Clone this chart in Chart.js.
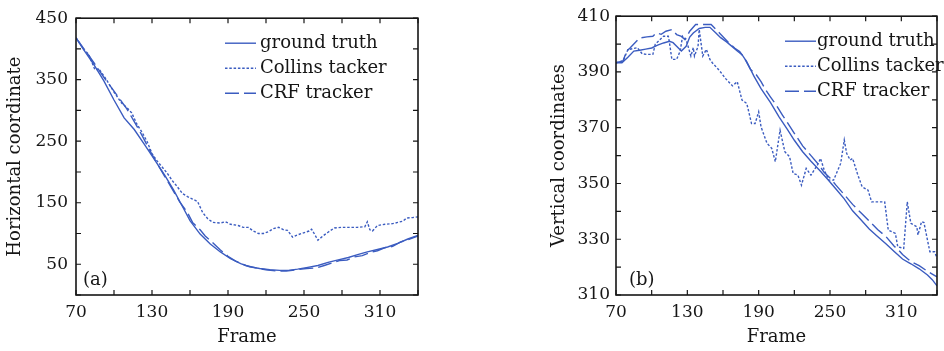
<!DOCTYPE html>
<html>
<head>
<meta charset="utf-8">
<script src="https://cdn.jsdelivr.net/npm/chart.js@4/dist/chart.umd.min.js"></script>
<style>
  body { margin: 0; background: #fff; width: 944px; height: 351px; position: relative; overflow: hidden; }
  .panel { position: absolute; top: 0; width: 472px; height: 351px; }
</style>
</head>
<body>
<div class="panel" style="left:0"><canvas id="chartA" width="472" height="351"></canvas></div>
<div class="panel" style="left:472px"><canvas id="chartB" width="472" height="351"></canvas></div>
<script>
var seriesNames = ['ground truth', 'Collins tacker', 'CRF tracker'];
var frameLabels = [70, 130, 190, 250, 310];
var aTickLabels = [50, 150, 250, 350, 450];
var bTickLabels = [310, 330, 350, 370, 390, 410];

// (a) horizontal coordinate
var aTruthFrames = [70,76,84,92,100,108,116,124,132,140,147,153,160,168,176,184,192,200,207,215,223,231,238,245,253,261,269,277,285,293,300,308,316,324,332,340];
var aTruthValues = [418,399,375,348,317,288,269,245,220,195,171,148,121,99,83,70,59,51,46,43,41,40,40,42,45,48,53,57,61,66,70,74,78,84,91,97];
var aCollinsFrames = [70,76,80,85,88,94,100,106,110,114,118,122,126,130,134,138,142,146,150,154,158,162,166,170,174,178,184,188,192,198,202,206,210,214,218,222,226,230,234,237,241,244,248,251,254,256,258,261,265,269,274,280,286,292,298,300,302,304,308,314,320,324,328,331,336,340];
var aCollinsValues = [418,400,391,366,368,350,330,312,305,296,278,265,250,230,218,208,198,186,176,165,160,156,152,134,124,118,117,119,115,113,110,110,104,100,100,103,108,110,106,105,94,97,100,102,104,107,100,89,96,102,109,110,110,110,111,119,106,104,113,115,116,118,120,125,126,127];
var aCrfFrames = [70,76,84,92,98,104,110,116,122,128,134,140,146,152,158,162,165,168,172,178,184,190,196,204,212,220,228,236,244,252,260,266,272,278,284,290,296,302,308,314,320,326,332,340];
var aCrfValues = [418,401,378,354,337,320,303,282,260,236,214,193,172,151,134,118,112,106,96,85,73,63,55,48,44,41,39,39,41,43,44,48,52,56,57,62,64,69,72,77,79,86,90,96];

// (b) vertical coordinates
var bTruthFrames = [70,75,80,85,90,95,100,105,110,115,118,121,125,129,132,135,140,145,149,154,158,163,168,172,176,180,186,192,200,207,214,220,227,234,241,248,255,262,269,276,283,290,297,304,311,318,325,332,336,340];
var bTruthValues = [393.3,393.3,395.3,397.5,397.8,398.2,398.6,399.6,400.4,401,400.5,399.2,397.5,399.2,402.5,404,405.6,406,406,404,402.3,400.8,399,397.5,396.2,393.6,388.5,384,379,374,369.5,365.5,361.4,358,354.8,351.5,348,344.5,340.2,337,333.7,331,328.4,325.6,322.9,321.2,319.4,317.2,315.5,313.3];
var bCollinsFrames = [70,76,80,88,92,96,101,103,110,114,115,117,121,124,126,129,133,135,136,139,140,143,146,149,151,157,162,168,172,176,180,184,187,190,192,197,201,204,208,212,216,219,223,226,230,234,240,242,245,249,253,256,259,262,264,267,269,273,277,282,285,296,299,305,307,312,315,318,323,324,327,329,334,338,340];
var bCollinsValues = [393.3,394,398,398.7,396.5,396.3,396.3,399.9,402.8,402.8,400.4,394.5,394.5,397.5,402.8,401.6,395.7,398.7,395.7,399.2,405.2,395.7,398.1,394.5,393.3,390.5,387.7,385,386.5,379.9,378.7,371.5,371.5,375.7,370.3,364.4,362.6,357.8,369.1,361.4,359.6,353.6,353,349.4,355.4,353,357,359,355,351.2,351.2,354.2,357.2,365.6,360.8,358.4,359,353.6,348.8,347.6,343.4,343.4,333.3,332.1,327.3,326.7,343.4,335.7,334.5,331.5,336.3,336,325.5,325.5,323.2];
var bCrfFrames = [70,76,79,82,86,90,96,101,104,108,112,117,121,125,128,132,137,143,150,157,161,165,170,174,178,183,188,192,196,200,205,210,214,220,227,234,241,245,250,255,262,269,276,283,290,297,304,308,311,318,325,332,336,340];
var bCrfValues = [393.3,394,397.5,398.7,400.5,402.2,402.6,402.8,404,403.5,404.6,405.2,403.4,402.8,401.6,404.6,407,407,407,404,402.2,400.4,398.5,397.3,395,391,389,386.5,383.5,381,378,374.5,372,368,363.5,360,356.5,354,352,349.4,346,342.5,339.5,336.5,333.5,331,327.5,326,324.5,322,320.5,318.5,317.5,316.5];

var blue = '#3b5cc0';
var ink = '#161616';
var serif = "'DejaVu Serif', serif";

function pts(frames, values) {
  return frames.map(function (f, i) { return { x: f, y: values[i] }; });
}

function lines(truth, collins, crf) {
  var dashes = [[], [2.5, 1.8], [14, 5]];
  return [truth, collins, crf].map(function (d, i) {
    return {
      label: seriesNames[i],
      data: d,
      borderColor: blue,
      borderWidth: 1.4,
      borderDash: dashes[i],
      pointRadius: 0,
      tension: 0,
      fill: false
    };
  });
}

// closed box, inward ticks on all four sides, legend inside, panel tag
var framePlugin = {
  id: 'frame',
  afterDatasetsDraw: function (chart, args, opts) {
    var a = chart.chartArea, ctx = chart.ctx;
    var xs = chart.scales.x, ys = chart.scales.y;
    ctx.save();
    ctx.strokeStyle = ink;
    ctx.lineWidth = 1.2;
    ctx.beginPath();
    xs.ticks.forEach(function (t) {
      var px = xs.getPixelForValue(t.value);
      ctx.moveTo(px, a.bottom); ctx.lineTo(px, a.bottom - 5);
      ctx.moveTo(px, a.top); ctx.lineTo(px, a.top + 5);
    });
    ys.ticks.forEach(function (t) {
      var py = ys.getPixelForValue(t.value);
      ctx.moveTo(a.left, py); ctx.lineTo(a.left + 5, py);
      ctx.moveTo(a.right, py); ctx.lineTo(a.right - 5, py);
    });
    ctx.stroke();
    ctx.lineWidth = 1.6;
    ctx.strokeRect(a.left, a.top, a.right - a.left, a.bottom - a.top);

    ctx.font = '18px ' + serif;
    ctx.textBaseline = 'middle';
    ctx.fillStyle = ink;
    chart.data.datasets.forEach(function (ds, i) {
      var y = a.top + opts.legendTop + i * 25;
      var x = a.left + opts.legendLeft;
      ctx.strokeStyle = ds.borderColor;
      ctx.lineWidth = ds.borderWidth;
      ctx.setLineDash(ds.borderDash);
      ctx.beginPath(); ctx.moveTo(x, y); ctx.lineTo(x + 31, y); ctx.stroke();
      ctx.setLineDash([]);
      ctx.fillText(ds.label, x + opts.textGap, y);
    });
    ctx.fillText(opts.tag, a.left + opts.tagLeft, a.bottom - 15);
    ctx.restore();
  }
};

function build(id, datasets, yMin, yMax, yStep, yLabels, yTitle, pad, yWidth, yPad, frameOpts) {
  return new Chart(document.getElementById(id), {
    type: 'line',
    data: { datasets: datasets },
    plugins: [framePlugin],
    options: {
      responsive: false,
      animation: false,
      devicePixelRatio: 1,
      layout: { padding: pad },
      plugins: { legend: { display: false }, tooltip: { enabled: false }, frame: frameOpts },
      scales: {
        x: {
          type: 'linear', min: 70, max: 340,
          grid: { display: false, drawTicks: false },
          border: { display: false },
          ticks: {
            stepSize: 30, autoSkip: false, maxRotation: 0, padding: 7, color: ink,
            font: { family: serif, size: 17 },
            callback: function (v) { return frameLabels.indexOf(v) >= 0 ? String(v) : ''; }
          },
          title: { display: true, text: 'Frame', color: ink, font: { family: serif, size: 18 }, padding: { top: 0, bottom: 3 } },
          afterFit: function (s) { s.height = 56; }
        },
        y: {
          type: 'linear', min: yMin, max: yMax,
          grid: { display: false, drawTicks: false },
          border: { display: false },
          ticks: {
            stepSize: yStep, autoSkip: false, padding: yPad, color: ink,
            font: { family: serif, size: 17 },
            callback: function (v) { return yLabels.indexOf(v) >= 0 ? String(v) : ''; }
          },
          title: { display: true, text: yTitle, color: ink, font: { family: serif, size: 18 }, padding: { top: 0, bottom: 0 } },
          afterFit: function (s) { s.width = yWidth; }
        }
      }
    }
  });
}

build('chartA',
  lines(pts(aTruthFrames, aTruthValues), pts(aCollinsFrames, aCollinsValues), pts(aCrfFrames, aCrfValues)),
  0, 450, 50, aTickLabels, 'Horizontal coordinate',
  { left: 5, right: 54, top: 16, bottom: 0 }, 71, 8,
  { legendLeft: 149, legendTop: 25, textGap: 35, tag: '(a)', tagLeft: 7 });

build('chartB',
  lines(pts(bTruthFrames, bTruthValues), pts(bCollinsFrames, bCollinsValues), pts(bCrfFrames, bCrfValues)),
  310, 410, 10, bTickLabels, 'Vertical coordinates',
  { left: 77, right: 3, top: 16, bottom: 0 }, 67, 6,
  { legendLeft: 169, legendTop: 25, textGap: 32, tag: '(b)', tagLeft: 13 });
</script>
</body>
</html>
